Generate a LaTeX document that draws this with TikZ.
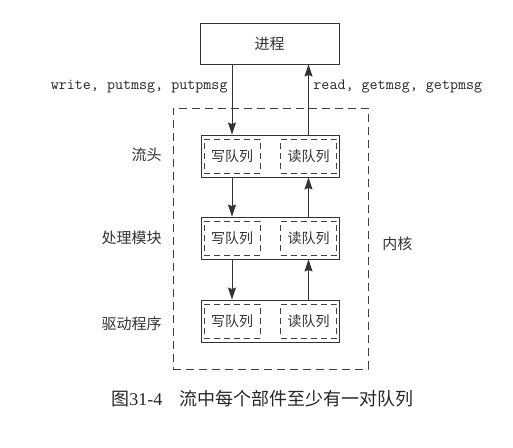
\documentclass[tikz,border=0pt]{standalone}
\usepackage{fontspec}
\setmainfont{Liberation Serif}
\newfontfamily\cjk{Noto Sans CJK SC}
\usetikzlibrary{arrows.meta}
\begin{document}
\begin{tikzpicture}[x=1pt,y=-1pt,
  line width=0.9pt, draw=black!80,
  mbox/.style={draw=black!80, minimum width=138pt, minimum height=42pt, inner sep=0pt},
  qbox/.style={draw=black!75, dash pattern=on 6pt off 4pt, minimum width=56pt, minimum height=34pt, inner sep=0pt, font=\cjk\fontsize{14}{14}\selectfont, text=black!80},
  lbl/.style={font=\cjk\fontsize{15}{15}\selectfont, text=black!80, inner sep=0pt},
  mono/.style={font=\ttfamily\addfontfeatures{FakeBold=1.2}\fontsize{15.6}{16}\selectfont, text=black!85, inner sep=0pt},
  arr/.style={draw=black!80, -{Stealth[length=12pt,width=8pt,inset=1.5pt]}}
]
\useasboundingbox (0,0) rectangle (513,447);
\fill[white] (0,0) rectangle (513,447);

% process box
\node[draw=black!80, minimum width=139pt, minimum height=41pt, inner sep=0pt, lbl] (proc) at (269.5,43.5) {进程};

% kernel dashed region
\node[draw=black!75, dash pattern=on 8pt off 5pt, minimum width=195pt, minimum height=261pt, inner sep=0pt] (kern) at (270.5,238.5) {};

% module boxes
\node[mbox] (m1) at (270,156) {};
\node[mbox] (m2) at (270,238) {};
\node[mbox] (m3) at (270,321) {};

% queues
\node[qbox] (w1) at (232,156) {写队列};
\node[qbox] (r1) at (308.5,156) {读队列};
\node[qbox] (w2) at (232,238) {写队列};
\node[qbox] (r2) at (308.5,238) {读队列};
\node[qbox] (w3) at (232,321) {写队列};
\node[qbox] (r3) at (308.5,321) {读队列};

% left labels
\node[lbl, anchor=east] (l1) at (162,155) {流头};
\node[lbl, anchor=east] (l2) at (162,238) {处理模块};
\node[lbl, anchor=east] (l3) at (162,324) {驱动程序};
\node[lbl, anchor=west] (lk) at (382,244) {内核};

% call labels
\node[mono, anchor=east] (wl) at (228,87) {write, putmsg, putpmsg};
\node[mono, anchor=west] (rl) at (313,87) {read, getmsg, getpmsg};

% arrows
\draw[arr] (proc.south -| w1) -- (m1.north -| w1);
\draw[arr] (m1.south -| w1) -- (m2.north -| w1);
\draw[arr] (m2.south -| w1) -- (m3.north -| w1);
\draw[arr] (m1.north -| r1) -- (proc.south -| r1);
\draw[arr] (m2.north -| r1) -- (m1.south -| r1);
\draw[arr] (m3.north -| r1) -- (m2.south -| r1);

% caption
\node[inner sep=0pt, anchor=west, text=black!85] (cap) at (111,399)
  {\fontsize{18}{18}\selectfont {\cjk 图}31-4\hspace{17pt}{\cjk 流中每个部件至少有一对队列}};
\end{tikzpicture}
\end{document}
